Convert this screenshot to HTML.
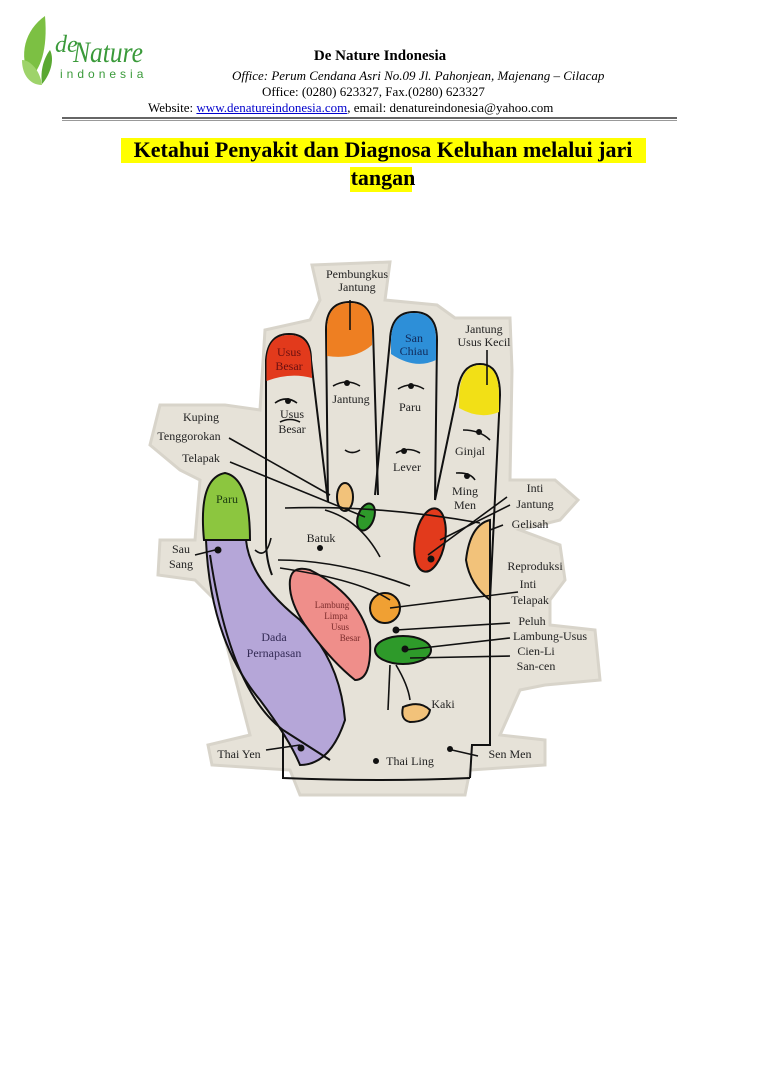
<!DOCTYPE html>
<html><head><meta charset="utf-8"><style>
html,body{margin:0;padding:0;background:#fff;width:768px;height:1086px;overflow:hidden;position:relative;font-family:"Liberation Serif",serif;}
.t{position:absolute;white-space:nowrap;color:#000;}
</style></head><body>
<svg style="position:absolute;left:0;top:0" width="768" height="1086" viewBox="0 0 768 1086">
<!-- logo -->
<path d="M45 16 C25 30 18 55 30 78 C40 70 48 50 45 16Z" fill="#7cc043"/>
<path d="M22 60 C30 60 40 70 42 85 C30 85 22 75 22 60Z" fill="#9ed36a"/>
<path d="M50 50 C55 60 50 75 42 84 C40 70 44 58 50 50Z" fill="#5aa832"/>
<text x="55" y="52" font-family="Liberation Serif" font-style="italic" font-size="24" fill="#3a9a3a">de</text>
<text x="73" y="62" font-family="Liberation Serif" font-style="italic" font-size="30" fill="#3a9a3a" textLength="70" lengthAdjust="spacingAndGlyphs">Nature</text>
<text x="60" y="78" font-family="Liberation Sans" font-size="12" letter-spacing="4" fill="#3a9a3a">indonesia</text>
<!-- header rule -->
<rect x="62" y="117" width="615" height="2" fill="#666"/>
<rect x="62" y="120" width="615" height="1" fill="#999"/>
<!-- title highlight -->
<rect x="121" y="138" width="525" height="25" fill="#ffff00"/>
<rect x="350" y="167" width="62" height="25" fill="#ffff00"/>
<!-- paper background -->
<path d="M312 265 L390 262 L385 300 L437 305 L455 318 L510 318 L512 370 L510 480 L555 480 L578 500 L560 520 L520 530 L560 545 L565 580 L550 600 L550 625 L595 630 L600 680 L545 685 L520 690 L500 735 L545 740 L545 765 L470 770 L465 795 L300 795 L290 770 L212 765 L208 745 L250 735 L215 600 L195 580 L158 575 L160 540 L195 540 L200 480 L180 470 L150 445 L160 405 L225 405 L260 410 L265 330 L310 320 L320 300Z" fill="#e6e2d8" stroke="#d8d4ca" stroke-width="3"/>
<g stroke="#111" stroke-width="2" fill="none">
<!-- fingers -->
<path d="M272 575 Q266 560 266 540 L266 360 Q268 334 289 334 Q311 334 311 360 L328 502"/>
<path d="M328 502 L326 330 Q326 302 350 302 Q372 302 373 330 L378 495"/>
<path d="M375 495 L390 340 Q391 312 414 312 Q437 312 437 340 L435 500"/>
<path d="M435 500 L457 395 Q460 364 480 364 Q500 364 500 395 L490 600 L490 745 L472 745 L470 778"/>
<path d="M283 730 L283 778 Q380 782 470 778"/>
</g>
<!-- finger tips colored -->
<path d="M266.5 381 L266.5 360 Q268 335 289 335 Q310 335 311 360 L312 378 Q290 372 266.5 381Z" fill="#e23a1c"/>
<path d="M327 356 L327 330 Q327 303 350 303 Q372 303 372 330 L372 345 Q355 360 327 356Z" fill="#ee7f22"/>
<path d="M391 354 L391 340 Q392 313 414 313 Q436 313 436 340 L436 360 Q415 370 391 354Z" fill="#2d8fd8"/>
<path d="M459 408 L459 395 Q461 365 480 365 Q499 365 499 395 L499 412 Q480 420 459 408Z" fill="#f2e016"/>
<!-- thumb -->
<path d="M204 540 Q198 478 225 473 Q250 478 250 540 Z" fill="#8cc63f" stroke="#111" stroke-width="2"/>
<path d="M206 540 Q210 640 260 700 Q290 740 300 765 Q330 765 345 720 Q340 660 300 620 Q250 580 246 540 Z" fill="#b5a6d8" stroke="#111" stroke-width="2"/>
<path d="M210 555 Q230 690 283 730 L330 760" fill="none" stroke="#111" stroke-width="2"/>
<!-- pink -->
<path d="M290 580 Q292 565 310 570 Q360 595 370 640 Q372 680 355 680 Q330 660 305 625 Q288 600 290 580Z" fill="#ef8e8a" stroke="#111" stroke-width="2"/>
<!-- palm shapes -->
<ellipse cx="345" cy="497" rx="8" ry="14" fill="#f2c27a" stroke="#111" stroke-width="2"/>
<ellipse cx="366" cy="517" rx="8" ry="14" transform="rotate(20 366 517)" fill="#2e9a2a" stroke="#111" stroke-width="2"/>
<ellipse cx="430" cy="540" rx="15" ry="32" transform="rotate(10 430 540)" fill="#e23a1c" stroke="#111" stroke-width="2"/>
<path d="M490 520 Q470 525 466 560 Q470 585 490 600 Z" fill="#f2c27a" stroke="#111" stroke-width="2"/>
<circle cx="385" cy="608" r="15" fill="#f0a033" stroke="#111" stroke-width="2"/>
<ellipse cx="403" cy="650" rx="28" ry="14" fill="#2e9a2a" stroke="#111" stroke-width="2"/>
<path d="M403 707 Q420 700 430 710 Q428 722 410 722 Q400 720 403 707Z" fill="#f2c27a" stroke="#111" stroke-width="2"/>
<!-- connector lines -->
<g stroke="#111" stroke-width="1.6" fill="none">
<line x1="229" y1="438" x2="330" y2="495"/>
<line x1="230" y1="462" x2="365" y2="517"/>
<path d="M285 508 Q380 505 480 523"/>
<path d="M325 510 Q360 520 380 557"/>
<path d="M271 538 Q266 560 255 550"/>
<path d="M278 560 Q340 560 410 586"/>
<path d="M280 568 Q360 580 390 600"/>
<line x1="428" y1="555" x2="507" y2="497"/>
<line x1="440" y1="540" x2="510" y2="505"/>
<line x1="490" y1="530" x2="503" y2="525"/>
<line x1="390" y1="608" x2="518" y2="592"/>
<line x1="396" y1="630" x2="510" y2="623"/>
<line x1="405" y1="650" x2="510" y2="638"/>
<line x1="410" y1="658" x2="510" y2="656"/>
<path d="M390 665 L388 710"/>
<path d="M396 665 Q408 685 410 700"/>
<line x1="350" y1="300" x2="350" y2="330"/>
<line x1="487" y1="350" x2="487" y2="385"/>
<line x1="195" y1="555" x2="215" y2="550"/>
<line x1="266" y1="750" x2="300" y2="745"/>
<line x1="452" y1="750" x2="478" y2="756"/>
<path d="M275 403 Q286 395 297 403"/><path d="M333 386 Q347 378 360 386"/><path d="M398 389 Q411 381 424 389"/>
<path d="M280 422 Q290 417 300 422"/><path d="M345 450 Q352 455 360 450"/><path d="M396 453 Q408 446 420 453"/>
<path d="M463 430 Q480 430 490 440"/><path d="M456 473 Q470 472 475 480"/>
</g>
<g fill="#111">
<circle cx="288" cy="401" r="3"/><circle cx="347" cy="383" r="3"/><circle cx="411" cy="386" r="3"/><circle cx="479" cy="432" r="3"/><circle cx="467" cy="476" r="3"/><circle cx="404" cy="451" r="3"/>
<circle cx="320" cy="548" r="3"/><circle cx="218" cy="550" r="3.5"/><circle cx="431" cy="559" r="3.5"/><circle cx="396" cy="630" r="3.5"/><circle cx="405" cy="649" r="3.5"/><circle cx="301" cy="748" r="3.5"/><circle cx="376" cy="761" r="3"/><circle cx="450" cy="749" r="3"/>
</g>
<g font-family="Liberation Serif" font-size="12" fill="#222">
<text x="357" y="278" text-anchor="middle">Pembungkus</text><text x="357" y="291" text-anchor="middle">Jantung</text>
<text x="289" y="356" text-anchor="middle" fill="#6a1010">Usus</text><text x="289" y="370" text-anchor="middle" fill="#6a1010">Besar</text>
<text x="414" y="342" text-anchor="middle" fill="#112a5a">San</text><text x="414" y="355" text-anchor="middle" fill="#112a5a">Chiau</text>
<text x="484" y="333" text-anchor="middle">Jantung</text><text x="484" y="346" text-anchor="middle">Usus Kecil</text>
<text x="351" y="403" text-anchor="middle">Jantung</text>
<text x="410" y="411" text-anchor="middle">Paru</text>
<text x="292" y="418" text-anchor="middle">Usus</text><text x="292" y="433" text-anchor="middle">Besar</text>
<text x="407" y="471" text-anchor="middle">Lever</text>
<text x="470" y="455" text-anchor="middle">Ginjal</text>
<text x="465" y="495" text-anchor="middle">Ming</text><text x="465" y="509" text-anchor="middle">Men</text>
<text x="201" y="421" text-anchor="middle">Kuping</text>
<text x="189" y="440" text-anchor="middle">Tenggorokan</text>
<text x="201" y="462" text-anchor="middle">Telapak</text>
<text x="227" y="503" text-anchor="middle" fill="#1a3a10">Paru</text>
<text x="321" y="542" text-anchor="middle">Batuk</text>
<text x="181" y="553" text-anchor="middle">Sau</text><text x="181" y="568" text-anchor="middle">Sang</text>
<text x="274" y="641" text-anchor="middle" fill="#332a55">Dada</text><text x="274" y="657" text-anchor="middle" fill="#332a55">Pernapasan</text>
<g font-size="9" fill="#7a2a2a"><text x="332" y="608" text-anchor="middle">Lambung</text><text x="336" y="619" text-anchor="middle">Limpa</text><text x="340" y="630" text-anchor="middle">Usus</text><text x="350" y="641" text-anchor="middle">Besar</text></g>
<text x="535" y="492" text-anchor="middle">Inti</text><text x="535" y="508" text-anchor="middle">Jantung</text>
<text x="530" y="528" text-anchor="middle">Gelisah</text>
<text x="535" y="570" text-anchor="middle">Reproduksi</text>
<text x="528" y="588" text-anchor="middle">Inti</text><text x="530" y="604" text-anchor="middle">Telapak</text>
<text x="532" y="625" text-anchor="middle">Peluh</text>
<text x="550" y="640" text-anchor="middle">Lambung-Usus</text>
<text x="536" y="655" text-anchor="middle">Cien-Li</text><text x="536" y="670" text-anchor="middle">San-cen</text>
<text x="443" y="708" text-anchor="middle">Kaki</text>
<text x="239" y="758" text-anchor="middle">Thai Yen</text>
<text x="410" y="765" text-anchor="middle">Thai Ling</text>
<text x="510" y="758" text-anchor="middle">Sen Men</text>
</g>
</svg>
<div class="t" style="left:0;width:760px;text-align:center;top:48px;font-size:15px;font-weight:bold;">De Nature Indonesia</div>
<div class="t" style="left:232px;top:68px;font-size:13px;font-style:italic;">Office: Perum Cendana Asri No.09 Jl. Pahonjean, Majenang – Cilacap</div>
<div class="t" style="left:262px;top:84px;font-size:13px;">Office: (0280) 623327, Fax.(0280) 623327</div>
<div class="t" style="left:148px;top:100px;font-size:13px;">Website: <span style="color:#00c;text-decoration:underline">www.denatureindonesia.com</span>, email: denatureindonesia@yahoo.com</div>
<div class="t" style="left:0;width:766px;text-align:center;top:136px;font-size:22px;font-weight:bold;line-height:28px;">Ketahui Penyakit dan Diagnosa Keluhan melalui jari<br>tangan</div>
</body></html>
